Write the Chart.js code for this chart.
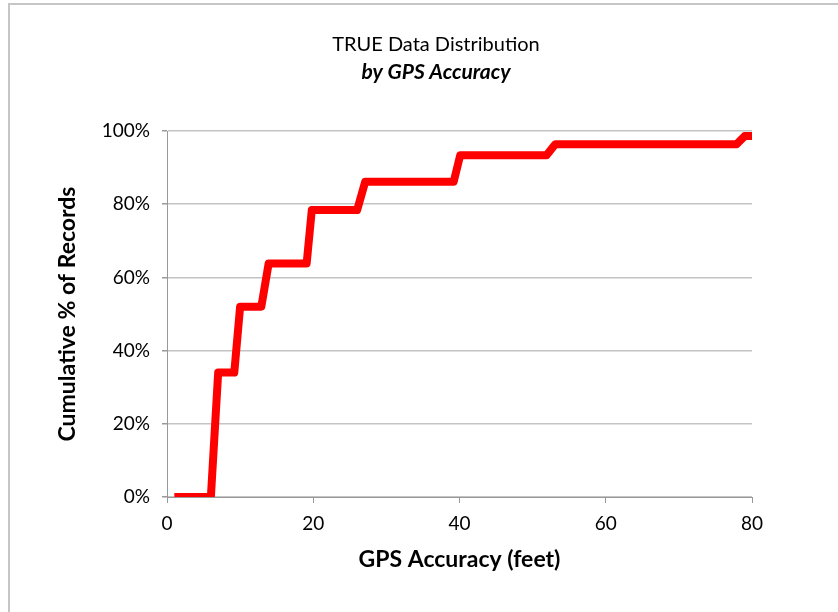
<!DOCTYPE html>
<html>
<head>
<meta charset="utf-8">
<script src="https://cdn.jsdelivr.net/npm/chart.js@4/dist/chart.umd.min.js"></script>
<style>
  body { margin: 0; background: #fff; }
  #marco { position: absolute; left: 0; top: 0; width: 838px; height: 612px; }
  #borde { position: absolute; left: 8px; top: 3px; width: 840px; height: 620px;
           border-top: 2px solid #c6c6c6; border-left: 2px solid #c6c6c6; }
  canvas { position: absolute; left: 0; top: 0; }
</style>
</head>
<body>
<div id="marco">
  <div id="borde"></div>
  <canvas id="grafico" width="838" height="612"></canvas>
</div>
<script>
// Precision GPS (pies) y porcentaje acumulado de registros
var precision = [1, 6, 7, 9.2, 10, 12.9, 13.9, 19.1, 19.8, 26, 27.1, 39.2, 40.1, 51.9, 53.1, 77.9, 79, 80];
var acumulado = [0, 0, 34, 34, 52, 52, 63.8, 63.8, 78.4, 78.4, 86.1, 86.1, 93.4, 93.4, 96.4, 96.4, 98.6, 98.6];
var ticksX = [0, 20, 40, 60, 80];
var ticksY = [0, 20, 40, 60, 80, 100];

var puntos = [];
for (var i = 0; i < precision.length; i++) {
    puntos.push({ x: precision[i], y: acumulado[i] });
}

var fuente = 'Lato, "Open Sans", sans-serif';

new Chart(document.getElementById('grafico').getContext('2d'), {
    type: 'line',
    data: {
        datasets: [{
            label: 'TRUE',
            data: puntos,
            borderColor: '#ff0000',
            borderWidth: 8,
            borderJoinStyle: 'round',
            borderCapStyle: 'butt',
            pointRadius: 0,
            tension: 0,
            fill: false
        }]
    },
    options: {
        responsive: false,
        animation: false,
        layout: { padding: { left: 54.2, right: 20.2, top: 33, bottom: 38.2 } },
        plugins: {
            legend: { display: false },
            tooltip: { enabled: false },
            title: {
                display: true,
                text: 'TRUE Data Distribution',
                color: '#000',
                font: { family: fuente, size: 20, weight: 'normal', lineHeight: 1.2 },
                padding: { top: 0, bottom: 2.4 }
            },
            subtitle: {
                display: true,
                text: 'by GPS Accuracy',
                color: '#000',
                font: { family: fuente, size: 21, weight: 'bold', style: 'italic', lineHeight: 1.2 },
                padding: { top: 0, bottom: 46.4 }
            }
        },
        scales: {
            x: {
                type: 'linear',
                min: 0,
                max: 80,
                afterBuildTicks: function (eje) {
                    eje.ticks = ticksX.map(function (v) { return { value: v }; });
                },
                afterFit: function (eje) { eje.height = 76.8; },
                grid: { drawOnChartArea: false, drawTicks: true, tickLength: 6, tickColor: '#999' },
                border: { display: true, color: '#999', width: 1 },
                ticks: { color: '#000', padding: 9, font: { family: fuente, size: 19 } },
                title: {
                    display: true,
                    text: 'GPS Accuracy (feet)',
                    color: '#000',
                    font: { family: fuente, size: 23, weight: 'bold', lineHeight: 1.2 },
                    padding: { top: 0, bottom: 0 }
                }
            },
            y: {
                min: 0,
                max: 100,
                afterBuildTicks: function (eje) {
                    eje.ticks = ticksY.map(function (v) { return { value: v }; });
                },
                afterFit: function (eje) { eje.width = 112.8; },
                grid: { color: '#c4c4c4', lineWidth: 1.5, drawTicks: true, tickLength: 5, tickColor: '#999' },
                border: { display: true, color: '#999', width: 1 },
                ticks: {
                    color: '#000',
                    padding: 12,
                    font: { family: fuente, size: 19 },
                    callback: function (v) { return v + '%'; }
                },
                title: {
                    display: true,
                    text: 'Cumulative % of Records',
                    color: '#000',
                    font: { family: fuente, size: 23, weight: 'bold', lineHeight: 1.2 },
                    padding: { top: 0, bottom: 0 }
                }
            },
            // eje vacio a la derecha, solo reserva espacio
            margen: {
                position: 'right',
                min: 0,
                max: 1,
                afterFit: function (eje) { eje.width = 65.8; },
                grid: { display: false },
                border: { display: false },
                ticks: { display: false }
            }
        }
    }
});
</script>
</body>
</html>
